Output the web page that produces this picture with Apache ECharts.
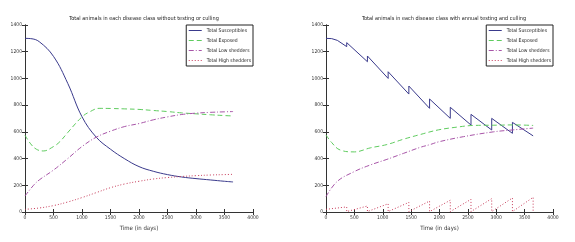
<!DOCTYPE html>
<html><head><meta charset="utf-8">
<script src="https://cdn.jsdelivr.net/npm/echarts@6/dist/echarts.min.js"></script>
<style>html,body{margin:0;padding:0;background:#fff}#c{width:575px;height:242px}</style>
</head><body><div id="c"></div>
<script>
// Tick labels
const xTicks = [0,500,1000,1500,2000,2500,3000,3500,4000];
const yTicks = [0,200,400,600,800,1000,1200,1400];
const seriesNames = ['Total Susceptibles','Total Exposed','Total Low shedders','Total High shedders'];
const titles = ['Total animals in each disease class without testing or culling','Total animals in each disease class with annual testing and culling'];
const xName = 'Time (in days)';

// Left panel: without testing or culling  [time, animals]
const leftSusceptibles = [[0,1300],[100,1298],[250,1275],[500,1165],[750,963],[1000,713],[1250,560],[1500,470],[1750,398],[2000,340],[2250,305],[2500,280],[2750,262],[3000,250],[3250,240],[3500,230],[3650,225]];
const leftExposed = [[0,575],[100,510],[200,470],[320,457],[500,490],[613,527],[750,595],[1000,712],[1140,751],[1300,776],[1500,775],[1750,772],[2000,768],[2250,760],[2500,752],[2750,742],[3000,735],[3250,728],[3500,722],[3650,719]];
const leftLow = [[0,120],[150,200],[250,240],[500,314],[750,400],[1000,490],[1250,560],[1500,605],[1750,640],[2000,662],[2250,690],[2500,712],[2750,730],[3000,740],[3250,746],[3500,750],[3650,752]];
const leftHigh = [[0,20],[250,30],[500,48],[750,75],[1000,108],[1250,145],[1500,182],[1750,210],[2000,230],[2250,247],[2500,258],[2750,266],[3000,272],[3250,277],[3500,280],[3650,282]];

// Right panel: annual testing and culling
const rightSusceptibles = [[0,1300],[100,1298],[200,1285],[365,1238],[365,1268],[730,1125],[730,1168],[1095,1000],[1095,1050],[1460,883],[1460,943],[1825,776],[1825,846],[2190,701],[2190,784],[2555,651],[2555,731],[2920,614],[2920,701],[3285,589],[3285,671],[3650,570]];
const rightExposed = [[0,577],[100,520],[250,464],[500,450],[780,480],[1073,505],[1366,545],[1660,580],[1982,615],[2300,635],[2600,648],[3000,650],[3300,652],[3650,648]];
const rightLow = [[0,115],[193,227],[486,300],[780,352],[1073,394],[1366,439],[1660,484],[1836,505],[1982,525],[2422,564],[2950,600],[3302,615],[3650,628]];
const rightHigh = [[0,20],[365,38],[365,3],[730,45],[730,3],[1095,62],[1095,3],[1460,72],[1460,3],[1825,82],[1825,3],[2190,88],[2190,3],[2555,95],[2555,3],[2920,100],[2920,3],[3285,105],[3285,3],[3650,110],[3650,0]];

const colors = ['#3a3a8c','#5fcc5f','#a855a8','#c83c5a'];
const lineTypes = ['solid',[5,3],[5,2,1,2],[1,2]];
const FONT = '"DejaVu Sans Condensed","Liberation Sans Narrow","Liberation Sans",sans-serif';

const chart = echarts.init(document.getElementById('c'), null, {renderer:'canvas'});
const grids = [
  {left:25, top:25, width:228, height:187},
  {left:326, top:25, width:227, height:187}
];
const xAxes = [], yAxes = [];
const fmt = v => String(v);
grids.forEach((g,i)=>{
  const axCommon = {min:0, axisLine:{show:true,lineStyle:{color:'#333',width:1}}, axisTick:{show:true,inside:true,length:3,lineStyle:{color:'#333'}}, splitLine:{show:false}};
  xAxes.push(Object.assign({}, axCommon, {gridIndex:i, type:'value', max:4000, interval:500, position:'bottom',
    axisLabel:{fontSize:5, color:'#333', fontFamily:FONT, margin:3, formatter:fmt},
    name:xName, nameLocation:'middle', nameGap:13, nameTextStyle:{fontSize:6, color:'#333', fontFamily:FONT}}));
  xAxes.push(Object.assign({}, axCommon, {gridIndex:i, type:'value', max:4000, interval:500, position:'top', axisLabel:{show:false}}));
  yAxes.push(Object.assign({}, axCommon, {gridIndex:i, type:'value', max:1400, interval:200, position:'left',
    axisLabel:{fontSize:5, color:'#333', fontFamily:FONT, margin:3, formatter:fmt}}));
  yAxes.push(Object.assign({}, axCommon, {gridIndex:i, type:'value', max:1400, interval:200, position:'right', axisLabel:{show:false}}));
});
const panels = [[leftSusceptibles,leftExposed,leftLow,leftHigh],[rightSusceptibles,rightExposed,rightLow,rightHigh]];
const smoothFlags = [[true,true,true,true],[false,true,true,false]];
const series = [];
panels.forEach((p,i)=>{
  p.forEach((d,k)=>{
    series.push({type:'line', name:seriesNames[k], xAxisIndex:i*2, yAxisIndex:i*2, data:d, showSymbol:false, symbol:'none', smooth:smoothFlags[i][k] ? 0.4 : false,
      lineStyle:{color:colors[k], width:1, type:lineTypes[k]}, itemStyle:{color:colors[k]}, animation:false});
  });
});
const legendCommon = {show:true, type:'plain', orient:'vertical', data:seriesNames, itemWidth:13, itemHeight:6, itemGap:5, top:25,
  borderColor:'#222', borderWidth:1, padding:[3,2,3,2], backgroundColor:'#fff',
  itemStyle:{opacity:0}, lineStyle:{width:1},
  textStyle:{fontSize:5, color:'#222', fontFamily:FONT}};
chart.setOption({
  backgroundColor:'#fff',
  animation:false,
  title:[
    {text:titles[0], left:139, top:11, textAlign:'center', textStyle:{fontSize:5.5, fontWeight:'normal', color:'#222', fontFamily:FONT}},
    {text:titles[1], left:439, top:11, textAlign:'center', textStyle:{fontSize:5.5, fontWeight:'normal', color:'#222', fontFamily:FONT}}
  ],
  grid:grids,
  xAxis:xAxes,
  yAxis:yAxes,
  legend:[
    Object.assign({}, legendCommon, {right:322}),
    Object.assign({}, legendCommon, {right:22})
  ],
  series:series
});
</script></body></html>
